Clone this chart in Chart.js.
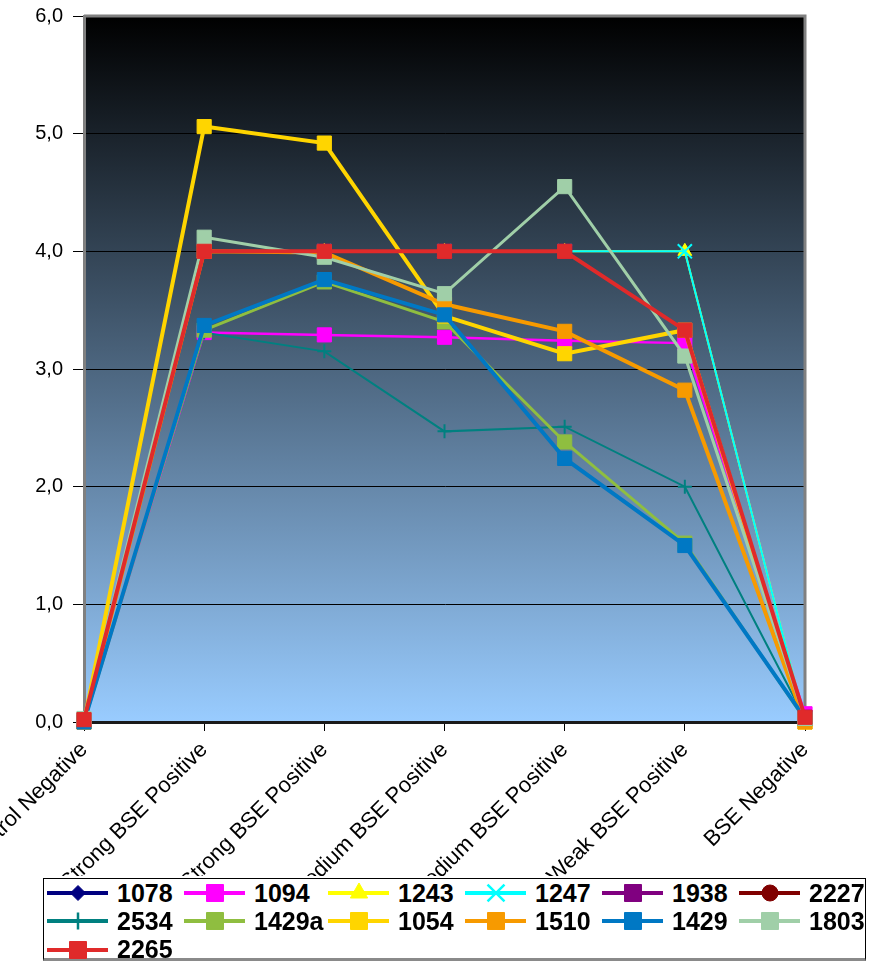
<!DOCTYPE html>
<html>
<head>
<meta charset="utf-8">
<script src="https://cdn.jsdelivr.net/npm/chart.js@4.4.1/dist/chart.umd.min.js"></script>
<style>
  html, body { margin: 0; padding: 0; background: #fff; }
  #wrap { position: relative; width: 881px; height: 965px; overflow: hidden; }
  #chartBox { position: absolute; left: 0; top: 0; width: 881px; height: 876px; }
  #legend {
    position: absolute; left: 43px; top: 878px; width: 823px; height: 83px;
    box-sizing: border-box; border: 1px solid #000; border-bottom: 3px solid #8a8a8a;
    display: grid; grid-template-columns: 137px 144px 137px 137px 137px auto;
    grid-auto-rows: 28.3px; padding: 0 0 0 3px; background: #fff;
    font: bold 25px 'Liberation Sans', Arial, sans-serif; color: #000;
  }
  .item { display: flex; align-items: center; white-space: nowrap; }
  .item canvas { margin-right: 9px; }
</style>
</head>
<body>
<div id="wrap">
  <div id="chartBox"><canvas id="myChart"></canvas></div>
  <div id="legend"></div>
</div>
<script>
const categories = ['Control Negative', 'Very Strong BSE Positive', 'Strong BSE Positive',
  'Medium BSE Positive', 'Weak Medium BSE Positive', 'Weak BSE Positive', 'BSE Negative'];

const seriesNames = ['1078', '1094', '1243', '1247', '1938', '2227', '2534',
  '1429a', '1054', '1510', '1429', '1803', '2265'];

const v1078 = [0.02, 4.00, 4.00, 4.00, 4.00, 3.33, 0.04];
const v1094 = [0.00, 3.31, 3.29, 3.27, 3.24, 3.22, 0.07];
const v1243 = [0.00, 4.00, 4.00, 4.00, 4.00, 4.00, 0.00];
const v1247 = [0.00, 4.00, 4.00, 4.00, 4.00, 4.00, 0.00];
const v1938 = [0.02, 4.00, 4.00, 4.00, 4.00, 3.33, 0.04];
const v2227 = [0.02, 4.00, 4.00, 4.00, 4.00, 3.33, 0.04];
const v2534 = [0.03, 3.31, 3.15, 2.47, 2.51, 2.00, 0.03];
const v1429a = [0.00, 3.33, 3.74, 3.40, 2.38, 1.52, 0.02];
const v1054 = [0.00, 5.06, 4.92, 3.45, 3.13, 3.33, 0.00];
const v1510 = [0.00, 4.00, 3.99, 3.55, 3.32, 2.82, 0.00];
const v1429 = [0.00, 3.37, 3.76, 3.46, 2.24, 1.50, 0.03];
const v1803 = [0.03, 4.12, 3.95, 3.64, 4.55, 3.11, 0.03];
const v2265 = [0.02, 4.00, 4.00, 4.00, 4.00, 3.33, 0.04];

const yTicks = [0, 1, 2, 3, 4, 5, 6];

const values = [v1078, v1094, v1243, v1247, v1938, v2227, v2534,
  v1429a, v1054, v1510, v1429, v1803, v2265];

const colors = ['#000080', '#FF00FF', '#FFFF00', '#00FFFF', '#800080', '#800000', '#008080',
  '#8FBE40', '#FFD500', '#F79A00', '#0078C4', '#A0CFA8', '#E02A2A'];
const styles = ['rectRot', 'rect', 'triangle', 'crossRot', 'rect', 'circle', 'cross',
  'rect', 'rect', 'rect', 'rect', 'rect', 'rect'];
const widths = [2, 2.5, 2, 2, 2, 2, 2, 3, 4, 4, 4, 3, 4];

// marker radius per point style, in the plot and in the legend keys
const plotRadius = { rect: 10, rectRot: 7, triangle: 8, crossRot: 10, circle: 6, cross: 7 };
const keyRadius = { rect: 12, rectRot: 7.5, triangle: 10, crossRot: 12, circle: 8, cross: 8.5 };

const fmt = v => v.toFixed(1).replace('.', ',');
const isCross = s => s === 'cross' || s === 'crossRot';

// gradient fill behind the grid, grey frame on top and right
const plotFrame = {
  id: 'plotFrame',
  beforeDraw(chart) {
    const {ctx, chartArea: a} = chart;
    const g = ctx.createLinearGradient(0, a.top, 0, a.bottom);
    g.addColorStop(0, '#000000');
    g.addColorStop(1, '#99CCFF');
    ctx.save();
    ctx.fillStyle = g;
    ctx.fillRect(a.left, a.top, a.right - a.left, a.bottom - a.top);
    ctx.restore();
  },
  beforeDatasetsDraw(chart) {
    const {ctx, chartArea: a} = chart;
    ctx.save();
    ctx.strokeStyle = '#808080';
    ctx.lineWidth = 3;
    ctx.beginPath();
    ctx.moveTo(a.left, a.top);
    ctx.lineTo(a.right, a.top);
    ctx.lineTo(a.right, a.bottom);
    ctx.stroke();
    ctx.restore();
  }
};

const n = seriesNames.length;
const datasets = seriesNames.map((name, i) => ({
  label: name,
  data: values[i],
  order: n - i,               // later series paint over earlier ones
  borderColor: colors[i],
  backgroundColor: colors[i],
  borderWidth: widths[i],
  pointStyle: styles[i],
  pointRadius: plotRadius[styles[i]],
  pointBorderWidth: isCross(styles[i]) ? 2 : 1,
  pointBackgroundColor: colors[i],
  pointBorderColor: colors[i],
  pointHoverRadius: plotRadius[styles[i]],
  tension: 0,
  clip: false
}));

const chart = new Chart(document.getElementById('myChart'), {
  type: 'line',
  data: { labels: categories, datasets: datasets },
  plugins: [plotFrame],
  options: {
    responsive: true,
    maintainAspectRatio: false,
    animation: false,
    layout: { padding: { top: 16, right: 76, left: 0, bottom: 0 } },
    plugins: { legend: { display: false }, tooltip: { enabled: false } },
    scales: {
      x: {
        offset: false,
        grid: { drawOnChartArea: false, drawTicks: true, tickLength: 9, tickColor: '#000' },
        border: { color: '#1a1a1a', width: 3 },
        ticks: {
          autoSkip: false, minRotation: 45, maxRotation: 45, padding: 6,
          color: '#000', font: { family: "'Liberation Sans', Arial", size: 22 }
        },
        afterFit: s => { s.height = 154; s.paddingLeft = 0; s.paddingRight = 0; }
      },
      y: {
        min: 0, max: 6,
        afterBuildTicks: s => { s.ticks = yTicks.map(v => ({ value: v })); },
        grid: {
          color: c => c.tick && c.tick.value === 6 ? '#808080' : '#000',
          lineWidth: 1, tickLength: 11, tickColor: '#000'
        },
        border: { color: '#808080', width: 3 },
        ticks: {
          padding: 10, color: '#000', callback: v => fmt(v),
          font: { family: "'Liberation Sans', Arial", size: 20 }
        },
        afterFit: s => { s.width = 84; s.paddingTop = 0; s.paddingBottom = 0; }
      }
    }
  }
});

// legend built from the same series, keys drawn with the Chart.js point helper
const legend = document.getElementById('legend');
seriesNames.forEach((name, i) => {
  const item = document.createElement('div');
  item.className = 'item';
  const key = document.createElement('canvas');
  key.width = 61; key.height = 26;
  const kc = key.getContext('2d');
  kc.strokeStyle = colors[i];
  kc.fillStyle = colors[i];
  kc.lineWidth = 4;
  kc.beginPath();
  kc.moveTo(0, 13); kc.lineTo(61, 13);
  kc.stroke();
  kc.lineWidth = isCross(styles[i]) ? 2.5 : 1;
  Chart.helpers.drawPoint(kc, {
    pointStyle: styles[i], rotation: 0,
    radius: keyRadius[styles[i]], borderWidth: kc.lineWidth
  }, 31, 13);
  const label = document.createElement('span');
  label.textContent = name;
  item.append(key, label);
  legend.append(item);
});
</script>
</body>
</html>
